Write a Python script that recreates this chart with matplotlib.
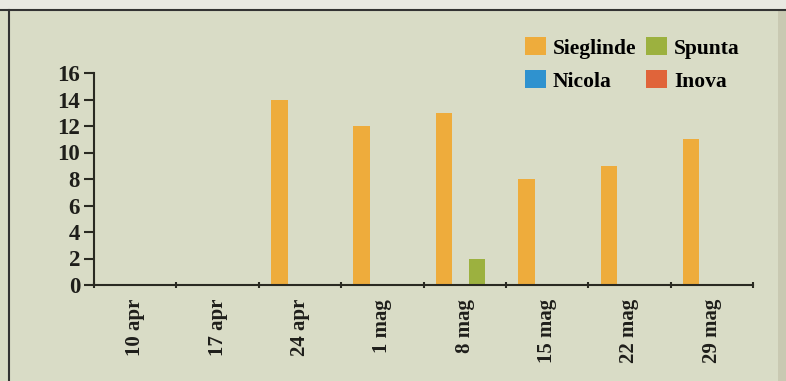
import numpy as np
import matplotlib
matplotlib.use("Agg")
import matplotlib.pyplot as plt
from matplotlib.patches import Rectangle, Patch
from matplotlib.lines import Line2D

# data
weeks = ["10 apr", "17 apr", "24 apr", "1 mag", "8 mag", "15 mag", "22 mag", "29 mag"]
sieglinde = [0, 0, 14, 12, 13, 8, 9, 11]
nicola = [0, 0, 0, 0, 0, 0, 0, 0]
spunta = [0, 0, 0, 0, 2, 0, 0, 0]
inova = [0, 0, 0, 0, 0, 0, 0, 0]

series = [
    ("Sieglinde", sieglinde, "#eeac3c"),
    ("Nicola", nicola, "#2f92cf"),
    ("Spunta", spunta, "#9cb13f"),
    ("Inova", inova, "#e0643a"),
]

bg = "#d9dcc6"
ink = "#2a2a22"
font = ["Liberation Serif", "DejaVu Serif"]

fig = plt.figure(figsize=(7.86, 3.81), dpi=100, facecolor=bg)

# frame pieces around the chart
fig.add_artist(Rectangle((0, 1 - 9 / 381), 1, 9 / 381, transform=fig.transFigure,
                         facecolor="#e9e9e2", edgecolor="none"))
fig.add_artist(Rectangle((778 / 786, 0), 8 / 786, 1 - 9 / 381, transform=fig.transFigure,
                         facecolor="#c9c9b2", edgecolor="none"))
fig.add_artist(Line2D([0, 1], [1 - 9.5 / 381] * 2, transform=fig.transFigure, color="#333", lw=1.5))
fig.add_artist(Line2D([8.5 / 786] * 2, [0, 1 - 9.5 / 381], transform=fig.transFigure, color="#333", lw=1.5))

ax = fig.add_axes([94 / 786, 96 / 381, 659 / 786, 212 / 381])
ax.set_facecolor(bg)

x = np.arange(len(weeks))
w = 0.2
for k, (name, vals, col) in enumerate(series):
    ax.bar(x + 0.15 + k * w, vals, width=w, align="edge", color=col, label=name, zorder=2)

ax.set_xlim(0, len(weeks))
ax.set_ylim(0, 16)
ax.set_yticks(range(0, 17, 2))
ax.set_xticks(np.arange(len(weeks) + 1))
ax.set_xticklabels([])
ax.set_xticks(x + 0.5, minor=True)
ax.set_xticklabels(weeks, minor=True, rotation=90)
ax.tick_params(axis="x", which="minor", length=0, pad=10)
ax.tick_params(axis="x", which="major", length=5, width=1.5, direction="inout", color=ink)
ax.tick_params(axis="y", length=7, width=1.5, color=ink, pad=3)

for lab in ax.get_yticklabels():
    lab.set_family(font)
    lab.set_fontsize(16.5)
    lab.set_fontweight("bold")
    lab.set_color("#1e1e1a")
for lab in ax.get_xticklabels(minor=True):
    lab.set_family(font)
    lab.set_fontsize(15)
    lab.set_fontweight("bold")
    lab.set_color("#1e1e1a")

for s in ["top", "right"]:
    ax.spines[s].set_visible(False)
for s in ["left", "bottom"]:
    ax.spines[s].set_color(ink)
    ax.spines[s].set_linewidth(1.5)

handles = [Patch(facecolor=c) for _, _, c in series]
leg = ax.legend(handles, [n for n, _, _ in series], ncol=2, loc="upper right",
                bbox_to_anchor=(1.009, 1.26), frameon=False,
                prop={"family": font, "size": 15.5, "weight": "bold"},
                handlelength=1.0, handleheight=0.9, handletextpad=0.3,
                columnspacing=0.45, labelspacing=0.55)

fig.savefig("out.png", dpi=100, facecolor=bg)
